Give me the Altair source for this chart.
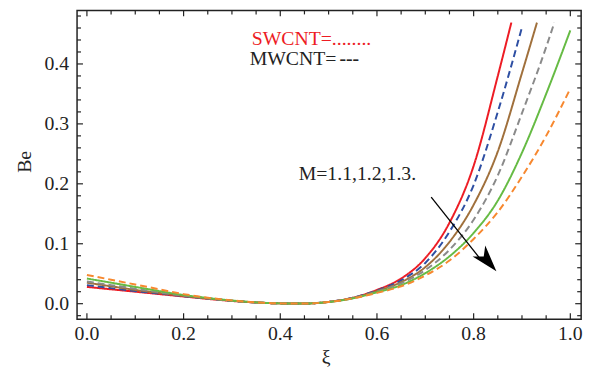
import altair as alt
import pandas as pd

# ---- data ----
names = ["red", "blue", "brown", "gray", "green", "orange"]
colors = ["#ED1C24", "#2E4FA3", "#A0703C", "#8A8A8A", "#66BB44", "#F7882F"]
dashes = [[1, 0], [7, 4], [1, 0], [7, 4], [1, 0], [7, 4]]

x_left = [0.0, 0.05, 0.1, 0.15, 0.2, 0.25, 0.3, 0.35, 0.4, 0.45, 0.5, 0.55]
red_x = x_left + [0.6, 0.65, 0.7, 0.75, 0.8, 0.85, 0.878]
red_y = [0.028, 0.024, 0.020, 0.016, 0.012, 0.008, 0.0045, 0.002, 0.0005, 0.0003, 0.003, 0.010,
         0.023, 0.042, 0.076, 0.135, 0.230, 0.380, 0.469]
blue_x = x_left + [0.6, 0.65, 0.7, 0.75, 0.8, 0.85, 0.9]
blue_y = [0.031, 0.026, 0.021, 0.017, 0.0125, 0.0085, 0.0047, 0.002, 0.0005, 0.0003, 0.003, 0.010,
          0.022, 0.039, 0.068, 0.120, 0.198, 0.320, 0.461]
brown_x = x_left + [0.6, 0.65, 0.7, 0.75, 0.8, 0.85, 0.9, 0.931]
brown_y = [0.035, 0.029, 0.023, 0.018, 0.013, 0.0088, 0.0049, 0.0021, 0.0005, 0.0003, 0.003, 0.0095,
           0.021, 0.036, 0.061, 0.103, 0.165, 0.254, 0.385, 0.469]
gray_x = x_left + [0.6, 0.65, 0.7, 0.75, 0.8, 0.85, 0.9, 0.95, 0.967]
gray_y = [0.037, 0.031, 0.025, 0.019, 0.0135, 0.009, 0.005, 0.0021, 0.0005, 0.0003, 0.003, 0.0093,
          0.020, 0.034, 0.056, 0.090, 0.140, 0.214, 0.318, 0.428, 0.469]
green_x = x_left + [0.6, 0.65, 0.7, 0.75, 0.8, 0.85, 0.9, 0.95, 1.0]
green_y = [0.042, 0.035, 0.028, 0.021, 0.0145, 0.0095, 0.0052, 0.0022, 0.0005, 0.0003, 0.0028, 0.009,
           0.019, 0.031, 0.051, 0.079, 0.118, 0.172, 0.252, 0.350, 0.456]
orange_x = x_left + [0.6, 0.65, 0.7, 0.75, 0.8, 0.85, 0.9, 0.95, 1.0]
orange_y = [0.048, 0.040, 0.032, 0.024, 0.016, 0.010, 0.0055, 0.0022, 0.0005, 0.0003, 0.0028, 0.0088,
            0.018, 0.029, 0.047, 0.072, 0.108, 0.153, 0.212, 0.280, 0.359]

x_major = [0.0, 0.2, 0.4, 0.6, 0.8, 1.0]
x_minor = [0.05, 0.1, 0.15, 0.25, 0.3, 0.35, 0.45, 0.5, 0.55, 0.65, 0.7, 0.75, 0.85, 0.9, 0.95]
y_major = [0.0, 0.1, 0.2, 0.3, 0.4]
y_minor = [-0.02, 0.02, 0.04, 0.06, 0.08, 0.12, 0.14, 0.16, 0.18, 0.22, 0.24, 0.26, 0.28,
           0.32, 0.34, 0.36, 0.38, 0.42, 0.44, 0.46, 0.48]

arrow_x = [0.7122, 0.8143]
arrow_y = [0.1778, 0.0741]
head_x = [0.829]
head_y = [0.0711]

# ---- build ----
series = {"red": (red_x, red_y), "blue": (blue_x, blue_y), "brown": (brown_x, brown_y),
          "gray": (gray_x, gray_y), "green": (green_x, green_y), "orange": (orange_x, orange_y)}
rows = []
for i, n in enumerate(names):
    xv, yv = series[n]
    for a, b in zip(xv, yv):
        rows.append({"s": n, "k": i, "x": a, "y": b})
df = pd.DataFrame(rows)

W, H = 511, 313
FONT = "Liberation Serif"
INK = "#222222"
xs = alt.Scale(domain=[-0.0204, 1.0224], nice=False, zero=False)
ys = alt.Scale(domain=[-0.0259, 0.4893], nice=False, zero=False)

AX = alt.Axis(
    values=x_major, labels=False, ticks=False, domain=False, grid=False,
    title="ξ", titleFont=FONT, titleFontSize=20, titleFontWeight="normal", titleColor=INK,
    titleX=252, titleY=44, titleBaseline="alphabetic")
AY = alt.Axis(
    values=y_major, labels=False, ticks=False, domain=False, grid=False,
    title="Be", titleFont=FONT, titleFontSize=20, titleFontWeight="normal", titleColor=INK,
    titleX=-53, titleY=153, titleBaseline="middle", titleAngle=270)


def X(field):
    return alt.X(field, scale=xs, axis=AX, title="ξ")


def Y(field):
    return alt.Y(field, scale=ys, axis=AY, title="Be")


lines = alt.Chart(df).mark_line(interpolate="monotone", strokeWidth=2, clip=True).encode(
    x=X("x:Q"),
    y=Y("y:Q"),
    color=alt.Color("s:N", scale=alt.Scale(domain=names, range=colors), legend=None),
    strokeDash=alt.StrokeDash("s:N", scale=alt.Scale(domain=names, range=dashes), legend=None),
    detail="k:O",
)


def xticks(vals, length):
    d = pd.DataFrame({"x": vals})
    bot = alt.Chart(d).mark_rule(color=INK, strokeWidth=1.2).encode(
        x=X("x:Q"), y=alt.value(H), y2=alt.value(H - length))
    top = alt.Chart(d).mark_rule(color=INK, strokeWidth=1.2).encode(
        x=X("x:Q"), y=alt.value(0), y2=alt.value(length))
    return [bot, top]


def yticks(vals, length):
    d = pd.DataFrame({"y": vals})
    left = alt.Chart(d).mark_rule(color=INK, strokeWidth=1.2).encode(
        y=Y("y:Q"), x=alt.value(0), x2=alt.value(length))
    right = alt.Chart(d).mark_rule(color=INK, strokeWidth=1.2).encode(
        y=Y("y:Q"), x=alt.value(W), x2=alt.value(W - length))
    return [left, right]


ticks = xticks(x_major, 6) + xticks(x_minor, 4) + yticks(y_major, 6) + yticks(y_minor, 4)

# tick labels (serif), placed through the scales
xlab = alt.Chart(pd.DataFrame({"x": x_major})).mark_text(
    font=FONT, fontSize=20, color=INK, align="center", baseline="alphabetic").encode(
    x=X("x:Q"), y=alt.value(H + 21), text=alt.Text("x:Q", format=".1f"))
ylab = alt.Chart(pd.DataFrame({"y": y_major})).mark_text(
    font=FONT, fontSize=20, color=INK, align="right", baseline="alphabetic", dy=6).encode(
    y=Y("y:Q"), x=alt.value(-8), text=alt.Text("y:Q", format=".1f"))

arrow_df = pd.DataFrame({"x": [arrow_x[0]], "y": [arrow_y[0]], "x2": [arrow_x[1]], "y2": [arrow_y[1]]})
arrow = alt.Chart(arrow_df).mark_rule(color="black", strokeWidth=1.3).encode(
    x=X("x:Q"), y=Y("y:Q"), x2="x2:Q", y2="y2:Q")
head = alt.Chart(pd.DataFrame({"x": head_x, "y": head_y})).mark_point(
    shape="M0,-1L0.63,1L0,0.45L-0.63,1Z", size=729, angle=139, filled=True,
    color="black", opacity=1, strokeWidth=0).encode(x=X("x:Q"), y=Y("y:Q"))


def label(txt, x, y, color=INK, size=20, weight="normal"):
    return alt.Chart(pd.DataFrame({"t": [txt]})).mark_text(
        font=FONT, fontSize=size, fontWeight=weight, color=color, align="left",
        baseline="alphabetic").encode(text="t:N", x=alt.value(x), y=alt.value(y))


texts = [
    label("SWCNT=........", 177, 35, color="#ED1C24"),
    label("MWCNT=", 175, 55.5),
    label("---", 266, 55.5, weight="bold"),
    label("M=1.1,1.2,1.3.", 224.7, 172),
]

chart = alt.layer(lines, *ticks, xlab, ylab, arrow, head, *texts).properties(
    width=W, height=H,
    autosize=alt.AutoSizeParams(type="none"),
    padding={"left": 70, "top": 0, "right": 11, "bottom": 48},
    background="white",
).configure_view(stroke=INK, strokeWidth=1.5).configure_axis(
    titleFont=FONT, titleFontSize=20, titleFontWeight="normal", titleColor=INK,
)

chart.save("out.html", embed_options={"renderer": "svg", "actions": False})
